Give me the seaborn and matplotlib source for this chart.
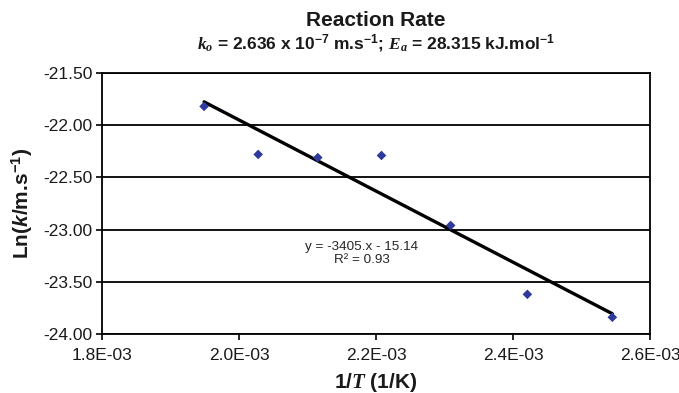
import matplotlib
matplotlib.use('Agg')
import matplotlib.pyplot as plt
import seaborn as sns
import numpy as np
from matplotlib.ticker import FixedLocator, FixedFormatter

# ---- data ----
inv_T = [1.949e-3, 2.028e-3, 2.115e-3, 2.208e-3, 2.309e-3, 2.421e-3, 2.545e-3]
ln_k = [-21.82, -22.28, -22.31, -22.29, -22.96, -23.62, -23.84]
slope = -3405.0
intercept = -15.14
r_squared = 0.93
x_ticks = [1.8e-3, 2.0e-3, 2.2e-3, 2.4e-3, 2.6e-3]
x_tick_labels = ['1.8E-03', '2.0E-03', '2.2E-03', '2.4E-03', '2.6E-03']
y_ticks = [-24.0, -23.5, -23.0, -22.5, -22.0, -21.5]
y_tick_labels = ['-24.00', '-23.50', '-23.00', '-22.50', '-22.00', '-21.50']

sns.set_theme(style='white')
plt.rcParams.update({
    'font.family': ['Liberation Sans', 'DejaVu Sans'],
    'axes.unicode_minus': False,
    'mathtext.fontset': 'custom',
    'mathtext.rm': 'Liberation Sans:bold',
    'mathtext.it': 'Liberation Sans:italic:bold',
    'mathtext.bf': 'Liberation Sans:bold',
    'mathtext.sf': 'Liberation Serif:italic:bold',
})

W, H = 679, 393
fig = plt.figure(figsize=(W / 100, H / 100), dpi=100)
L, R, T, B = 102, 650, 73, 334
ax = fig.add_axes([L / W, 1 - B / H, (R - L) / W, (B - T) / H])

# trendline
x_fit = np.array([min(inv_T), max(inv_T)])
sns.lineplot(x=x_fit, y=slope * x_fit + intercept, color='black', lw=2.4,
             ax=ax, zorder=3)
# data points
sns.scatterplot(x=inv_T, y=ln_k, marker='D', s=24, color='#2E3A9C',
                edgecolor='none', ax=ax, zorder=4)

ax.set_xlim(1.8e-3, 2.6e-3)
ax.set_ylim(-24.0, -21.5)
ax.xaxis.set_major_locator(FixedLocator(x_ticks))
ax.xaxis.set_major_formatter(FixedFormatter(x_tick_labels))
ax.yaxis.set_major_locator(FixedLocator(y_ticks))
ax.yaxis.set_major_formatter(FixedFormatter(y_tick_labels))

ax.grid(axis='y', color='black', lw=1.3)
ax.grid(axis='x', visible=False)
ax.set_axisbelow(True)
for sp in ax.spines.values():
    sp.set_visible(True)
    sp.set_color('black')
    sp.set_linewidth(1.3)
ax.tick_params(axis='both', direction='out', length=4, width=1.2,
               color='black', labelsize=12.5, labelcolor='#1a1a1a')
ax.tick_params(axis='x', pad=6, bottom=True)
ax.tick_params(axis='y', pad=3, left=True)

ax.set_xlabel(r'1/$\mathsf{T}$ (1/K)', fontsize=15, fontweight='bold',
              color='#1a1a1a')
ax.set_ylabel(r'Ln($\mathit{k}$/m.s$^{-1}$)', fontsize=15, fontweight='bold',
              color='#1a1a1a')
ax.xaxis.set_label_coords(0.5, -(383 - B) / (B - T))
ax.xaxis.label.set_va('center')
ax.yaxis.set_label_coords(-(L - 22) / (R - L), 0.5)
ax.yaxis.label.set_va('center')

ax.text(2.179e-3, -23.226,
        f'y = {slope:.0f}.x - {abs(intercept):.2f}\nR\u00b2 = {r_squared:.2f}',
        ha='center', va='center', fontsize=9.7, color='#262626',
        linespacing=1.15)

cx = (L + R) / 2 / W
fig.text(cx, 1 - 21 / H, 'Reaction Rate', ha='center', va='center',
         fontsize=15, fontweight='bold', color='#1a1a1a')
fig.text(cx, 1 - 43 / H,
         r'$\mathsf{k_o}$ = 2.636 x 10$^{-7}$ m.s$^{-1}$; '
         r'$\mathsf{E_a}$ = 28.315 kJ.mol$^{-1}$',
         ha='center', va='center', fontsize=12.5, fontweight='bold',
         color='#1a1a1a')

fig.savefig('out.png', dpi=100)
